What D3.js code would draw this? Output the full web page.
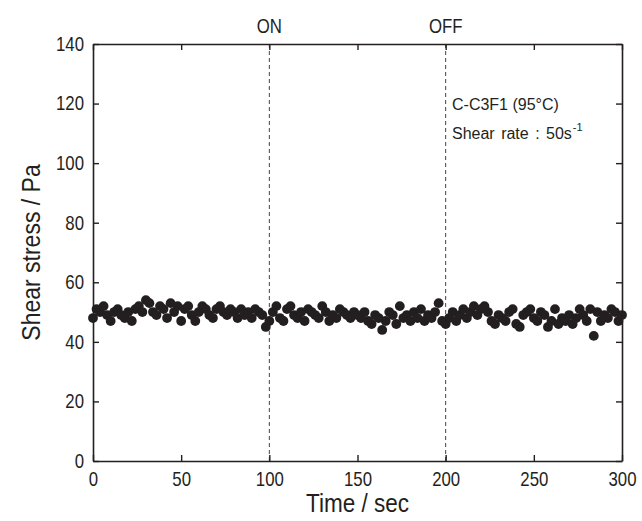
<!DOCTYPE html>
<html><head><meta charset="utf-8">
<script src="https://cdn.jsdelivr.net/npm/d3@7"></script>
<style>body{margin:0;background:#fff}svg{display:block}text{font-family:"Liberation Sans",Arial,sans-serif;fill:#231f20}</style>
</head><body><svg id="c" width="642" height="521"></svg>
<script>
const times = d3.range(0, 301, 2);
const stress = [
48,51,50,52,49,47,50,51,49,48,50,47,51,52,50,54,53,50,49,52,51,48,53,50,52,47,
51,52,49,47,50,52,51,49,48,51,52,50,49,51,50,48,51,49,50,48,51,50,49,45,47,
50,52,48,47,51,52,49,48,50,47,51,50,49,48,52,50,47,49,48,51,50,49,48,50,49,
48,50,47,46,49,48,44,47,50,49,46,52,48,49,47,50,48,51,47,49,48,50,53,47,46,
48,50,47,49,51,48,50,52,49,51,52,50,47,46,49,48,47,50,51,46,45,49,50,51,48,
47,50,49,45,47,51,46,48,47,49,46,48,51,49,47,51,42,50,47,49,48,51,50,47,49
];
const xTicks = [0,50,100,150,200,250,300];
const yTicks = [0,20,40,60,80,100,120,140];
const markers = [{t:100,label:"ON"},{t:200,label:"OFF"}];
const notes = ["C-C3F1 (95°C)", "Shear rate : 50s"];

(function(){
const svg = d3.select("#c");
const m = {l:93, r:622, t:44, b:461};
const x = d3.scaleLinear().domain([0,300]).range([m.l,m.r]);
const y = d3.scaleLinear().domain([0,140]).range([m.b,m.t]);
const ink = "#231f20";
const SX = 0.84;

markers.forEach(d=>{
  svg.append("line").attr("x1",x(d.t)).attr("x2",x(d.t)).attr("y1",m.t).attr("y2",m.b)
    .attr("stroke","#444").attr("stroke-width",1).attr("stroke-dasharray","4,3");
  svg.append("g").attr("transform",`translate(${x(d.t)},33) scale(${SX},1)`)
    .append("text").attr("text-anchor","middle").attr("font-size",20).text(d.label);
});

svg.append("g").selectAll("circle").data(times.map((t,i)=>({t,v:stress[i]}))).join("circle")
  .attr("cx",d=>x(d.t)).attr("cy",d=>y(d.v)).attr("r",4.9).attr("fill",ink);

const tl = 6;
const gB = svg.append("g").attr("transform",`translate(0,${m.b})`)
  .call(d3.axisBottom(x).tickValues(xTicks).tickSizeInner(-tl).tickSizeOuter(0).tickPadding(11));
const gT = svg.append("g").attr("transform",`translate(0,${m.t})`)
  .call(d3.axisTop(x).tickValues(xTicks).tickSizeInner(-tl).tickSizeOuter(0).tickFormat(""));
const gL = svg.append("g").attr("transform",`translate(${m.l},0)`)
  .call(d3.axisLeft(y).tickValues(yTicks).tickSizeInner(-tl).tickSizeOuter(0).tickPadding(9));
const gR = svg.append("g").attr("transform",`translate(${m.r},0)`)
  .call(d3.axisRight(y).tickValues(yTicks).tickSizeInner(-tl).tickSizeOuter(0).tickFormat(""));
[gB,gT,gL,gR].forEach(g=>{
  g.select(".domain").attr("stroke",ink).attr("stroke-width",1.6);
  g.selectAll(".tick line").attr("stroke",ink).attr("stroke-width",1.4);
  g.selectAll(".tick text").attr("font-size",20).attr("fill",ink)
    .attr("font-family","Liberation Sans, Arial, sans-serif")
    .attr("transform",`scale(${SX},1)`);
});
gL.selectAll(".tick text").attr("x",-9/SX);

svg.append("g").attr("transform",`translate(${(m.l+m.r)/2},512) scale(0.9,1)`)
  .append("text").attr("text-anchor","middle").attr("font-size",25).text("Time / sec");
svg.append("g").attr("transform",`translate(40,${(m.t+m.b)/2}) rotate(-90) scale(0.92,1)`)
  .append("text").attr("text-anchor","middle").attr("font-size",25).text("Shear stress / Pa");

svg.append("text").attr("x",452).attr("y",110).attr("font-size",16).text(notes[0]);
const n2 = svg.append("text").attr("x",452).attr("y",139).attr("font-size",16).attr("word-spacing",2).text(notes[1]);
n2.append("tspan").attr("dy",-8).attr("dx",1).attr("font-size",11).text("-1");
})();
</script></body></html>
